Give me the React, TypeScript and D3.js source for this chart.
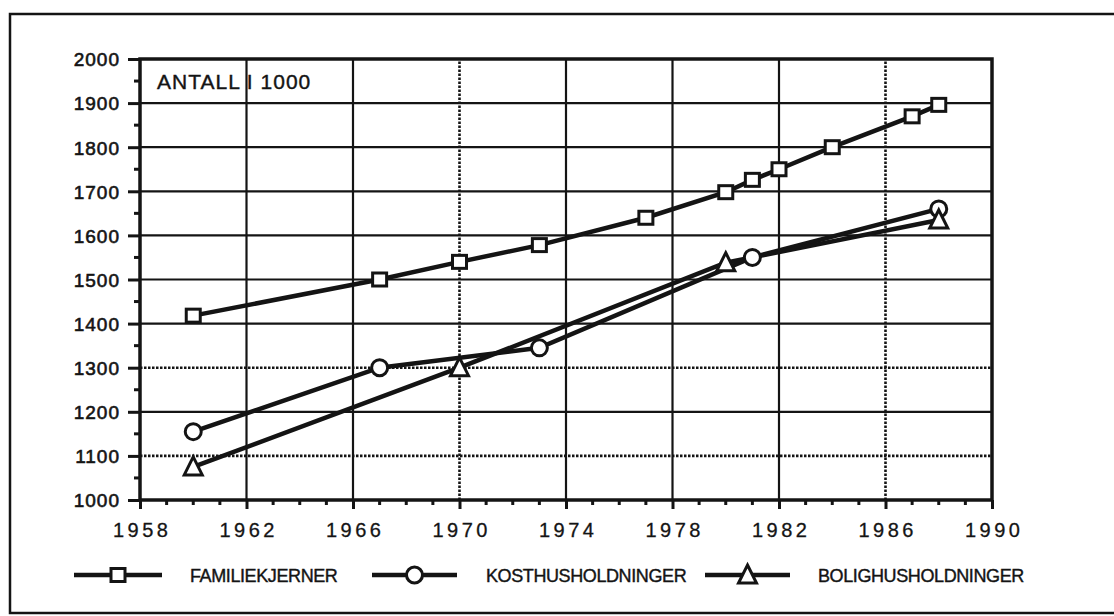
import React, { useEffect, useRef } from 'react';
import * as d3 from 'd3';

// values (thousands)
const familieYears = [1960, 1967, 1970, 1973, 1977, 1980, 1981, 1982, 1984, 1987, 1988];
const familieValues = [1418, 1500, 1540, 1578, 1640, 1698, 1726, 1750, 1800, 1870, 1896];

const kostYears = [1960, 1967, 1973, 1981, 1988];
const kostValues = [1155, 1300, 1345, 1550, 1660];

const boligYears = [1960, 1970, 1980, 1988];
const boligValues = [1075, 1300, 1538, 1635];

const xTicks = [1958, 1962, 1966, 1970, 1974, 1978, 1982, 1986, 1990];
const yTicks = [1000, 1100, 1200, 1300, 1400, 1500, 1600, 1700, 1800, 1900, 2000];
const dottedY = [1100, 1300];
const dottedX = [1970, 1986];

const legendLabels = ['FAMILIEKJERNER', 'KOSTHUSHOLDNINGER', 'BOLIGHUSHOLDNINGER'];

const FONT = '"Liberation Sans", Arial, Helvetica, sans-serif';
const INK = '#141414';

const Chart = () => {
  const ref = useRef<SVGSVGElement>(null);

  useEffect(() => {
    const svg = d3.select(ref.current);
    svg.selectAll('*').remove();

    const width = 1114;
    const height = 616;
    const margin = { top: 59, right: 122, bottom: 116, left: 140 };

    const x = d3.scaleLinear()
      .domain([1958, 1990])
      .range([margin.left, width - margin.right]);

    const y = d3.scaleLinear()
      .domain([1000, 2000])
      .range([height - margin.bottom, margin.top]);

    // outer scanned frame
    svg.append('rect')
      .attr('x', 10).attr('y', 14)
      .attr('width', 1130).attr('height', 599)
      .attr('fill', 'none').attr('stroke', INK).attr('stroke-width', 2.5);

    // grid
    const grid = svg.append('g').attr('stroke', INK);
    grid.selectAll('line.h')
      .data(yTicks.slice(1, -1))
      .join('line')
      .attr('class', 'h')
      .attr('x1', x(1958)).attr('x2', x(1990))
      .attr('y1', d => y(d)).attr('y2', d => y(d))
      .attr('stroke-width', d => dottedY.includes(d) ? 2.6 : 2.2)
      .attr('stroke-dasharray', d => dottedY.includes(d) ? '2.5,1.5' : null);

    grid.selectAll('line.v')
      .data(xTicks.slice(1, -1))
      .join('line')
      .attr('class', 'v')
      .attr('y1', y(1000)).attr('y2', y(2000))
      .attr('x1', d => x(d)).attr('x2', d => x(d))
      .attr('stroke-width', d => dottedX.includes(d) ? 2.6 : 2.2)
      .attr('stroke-dasharray', d => dottedX.includes(d) ? '2.5,1.5' : null);

    // plot frame
    svg.append('rect')
      .attr('x', x(1958)).attr('y', y(2000))
      .attr('width', x(1990) - x(1958)).attr('height', y(1000) - y(2000))
      .attr('fill', 'none').attr('stroke', INK).attr('stroke-width', 3.5);

    // y axis
    const yAxis = svg.append('g')
      .attr('transform', `translate(${x(1958)},0)`)
      .call(d3.axisLeft(y).tickValues(yTicks).tickSize(12).tickPadding(8).tickFormat(d3.format('d')))
      .call(g => g.select('.domain').remove());
    yAxis.selectAll('line').attr('stroke', INK).attr('stroke-width', 3);
    yAxis.selectAll('text')
      .attr('font-family', FONT).attr('font-size', 19).attr('fill', INK)
      .attr('stroke', INK).attr('stroke-width', 0.6)
      .attr('letter-spacing', 1).attr('dy', '0.36em');

    const yMinor = d3.range(1050, 2000, 100);
    svg.append('g').selectAll('line')
      .data(yMinor)
      .join('line')
      .attr('x1', x(1958) - 6).attr('x2', x(1958))
      .attr('y1', d => y(d)).attr('y2', d => y(d))
      .attr('stroke', INK).attr('stroke-width', 3);

    // x axis
    const xAxis = svg.append('g')
      .attr('transform', `translate(0,${y(1000)})`)
      .call(d3.axisBottom(x).tickValues(xTicks).tickSize(9).tickPadding(10).tickFormat(d3.format('d')))
      .call(g => g.select('.domain').remove());
    xAxis.selectAll('line').attr('stroke', INK).attr('stroke-width', 3);
    xAxis.selectAll('text')
      .attr('font-family', FONT).attr('font-size', 20).attr('fill', INK)
      .attr('stroke', INK).attr('stroke-width', 0.3)
      .attr('letter-spacing', 3.5).attr('dx', 1.75).attr('dy', '0.9em');

    const xMinor = d3.range(1959, 1990).filter(d => !xTicks.includes(d));
    svg.append('g').selectAll('line')
      .data(xMinor)
      .join('line')
      .attr('x1', d => x(d)).attr('x2', d => x(d))
      .attr('y1', y(1000)).attr('y2', y(1000) + 5)
      .attr('stroke', INK).attr('stroke-width', 3);

    svg.append('text')
      .attr('x', 157).attr('y', 89)
      .attr('font-family', FONT).attr('font-size', 21).attr('letter-spacing', 1)
      .attr('fill', INK).attr('stroke', INK).attr('stroke-width', 0.4)
      .text('ANTALL I 1000');

    // series
    const series = [
      { years: familieYears, values: familieValues, marker: 'square' },
      { years: kostYears, values: kostValues, marker: 'circle' },
      { years: boligYears, values: boligValues, marker: 'triangle' },
    ];

    const line = d3.line<[number, number]>()
      .x(d => x(d[0]))
      .y(d => y(d[1]));

    const drawMarker = (g: any, type: string, cx: number, cy: number) => {
      if (type === 'square') {
        g.append('rect')
          .attr('x', cx - 7).attr('y', cy - 6.5)
          .attr('width', 14).attr('height', 13)
          .attr('fill', '#fff').attr('stroke', INK).attr('stroke-width', 3);
      } else if (type === 'circle') {
        g.append('circle')
          .attr('cx', cx).attr('cy', cy).attr('r', 8)
          .attr('fill', '#fff').attr('stroke', INK).attr('stroke-width', 3);
      } else {
        g.append('path')
          .attr('d', `M${cx},${cy - 10}L${cx + 9},${cy + 8}L${cx - 9},${cy + 8}Z`)
          .attr('fill', '#fff').attr('stroke', INK).attr('stroke-width', 3)
          .attr('stroke-linejoin', 'miter');
      }
    };

    series.forEach(s => {
      const pts = s.years.map((yr, i) => [yr, s.values[i]] as [number, number]);
      svg.append('path')
        .datum(pts)
        .attr('d', line)
        .attr('fill', 'none')
        .attr('stroke', INK)
        .attr('stroke-width', 4.5);
    });

    series.forEach(s => {
      const g = svg.append('g');
      s.years.forEach((yr, i) => drawMarker(g, s.marker, x(yr), y(s.values[i])));
    });

    // legend
    const legendY = 575;
    const legendItems = [
      { x1: 74, x2: 162, text: 190 },
      { x1: 372, x2: 457, text: 486 },
      { x1: 705, x2: 790, text: 818 },
    ];
    legendItems.forEach((it, i) => {
      const g = svg.append('g');
      g.append('line')
        .attr('x1', it.x1).attr('x2', it.x2)
        .attr('y1', legendY).attr('y2', legendY)
        .attr('stroke', INK).attr('stroke-width', 4.5);
      drawMarker(g, series[i].marker, (it.x1 + it.x2) / 2, legendY);
      g.append('text')
        .attr('x', it.text).attr('y', legendY + 7)
        .attr('font-family', FONT).attr('font-size', 18).attr('letter-spacing', -0.4)
        .attr('fill', INK).attr('stroke', INK).attr('stroke-width', 0.4)
        .text(legendLabels[i]);
    });
  }, []);

  return <svg ref={ref} width={1114} height={616} style={{ display: 'block' }} />;
};

export default function App() {
  return (
    <div style={{ position: 'absolute', left: 0, top: 0, background: '#fff' }}>
      <Chart />
    </div>
  );
}
